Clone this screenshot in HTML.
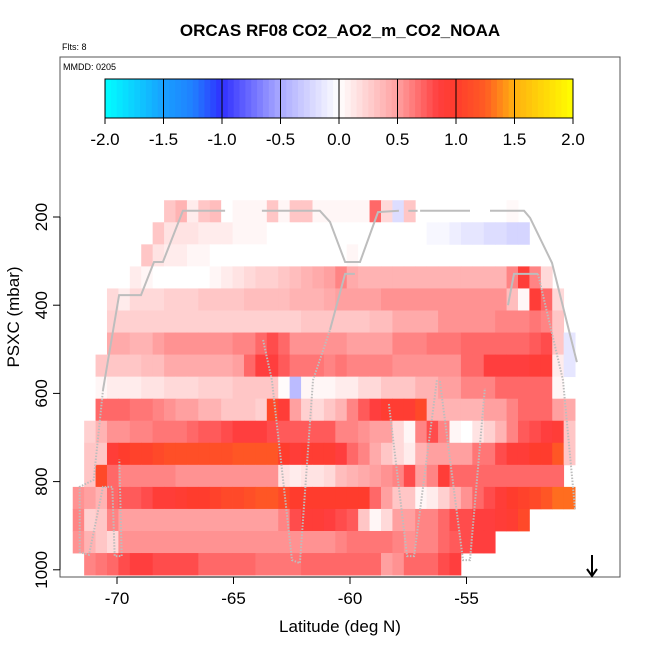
<!DOCTYPE html>
<html><head><meta charset="utf-8">
<style>
html,body{margin:0;padding:0;background:#fff;}
svg{display:block;font-family:"Liberation Sans",sans-serif;}
</style></head>
<body>
<svg id="chart" width="650" height="650" viewBox="0 0 650 650" xmlns="http://www.w3.org/2000/svg">
<rect width="650" height="650" fill="#fff"/>
<text x="340" y="36" text-anchor="middle" font-size="17" font-weight="bold">ORCAS RF08 CO2_AO2_m_CO2_NOAA</text>
<text x="62" y="50" font-size="9">Flts: 8</text>
<g id="heat"></g>
<g id="track"></g>
<rect x="60" y="57" width="560" height="520" fill="none" stroke="#555" stroke-width="1"/>
<text x="63" y="70" font-size="9">MMDD: 0205</text>
<g id="cbar"></g>
<g id="axes"></g>
<text x="340" y="632" text-anchor="middle" font-size="17">Latitude (deg N)</text>
<text x="0" y="0" transform="translate(19,317) rotate(-90)" text-anchor="middle" font-size="17">PSXC (mbar)</text>
<g stroke="#000" stroke-width="2" fill="none">
<line x1="592" y1="555" x2="592" y2="576"/><polyline points="587,569 592,576 597,569"/>
</g>
</svg>
<script>
// ---- data ----
const binStart = -71.9;    // latitude of first bin
const binWidth = 0.49;     // deg
const rowTop = 162;        // mbar top of first row
const rowHeight = 50;      // mbar
const N = null;
const row0 = [N,N,N,N,N,N,N,N,.3,.4,.1,.3,.35,0,.05,.05,.05,.3,.05,.3,.3,.05,.05,.05,.05,.05,.7,.2,-.2,.3,N,N,N,N,N,N,N,N,.03,N,N,N,N,N];
const row1 = [N,N,N,N,N,N,N,.3,.15,.15,.15,.1,.1,.1,.05,.05,.05,0,0,0,0,0,0,0,0,0,0,0,0,0,0,-.05,-.05,-.1,-.15,-.15,-.2,-.2,-.25,-.25,N,N,N,N];
const row2 = [N,N,N,N,N,N,.3,.15,.1,.1,.05,.05,0,0,0,0,0,0,0,0,0,0,0,0,.05,0,N,N,N,N,N,N,N,N,N,N,N,N,N,N,N,N,N,N];
const row3 = [N,N,N,N,N,.1,.05,0,0,0,0,0,.05,.1,.15,.2,.25,.25,.3,.35,.4,.45,.5,.6,.45,.4,.4,.4,.4,.4,.4,.4,.4,.4,.4,.4,.4,.4,.6,.9,.6,.2,N,N];
const row4 = [N,N,N,.2,.1,.2,.2,.2,.25,.25,.25,.3,.3,.3,.3,.35,.35,.35,.35,.4,.4,.4,.45,.5,.5,.5,.5,.55,.55,.55,.55,.55,.55,.55,.55,.55,.55,.55,.35,.05,.9,.7,.2,N];
const row5 = [N,N,N,.25,.25,.25,.25,.25,.25,.25,.25,.25,.25,.25,.25,.25,.25,.25,.25,.25,.3,.3,.3,.3,.3,.3,.35,.35,.45,.45,.45,.45,.55,.55,.55,.55,.55,.6,.6,.6,.65,.6,.3,N];
const row6 = [N,N,N,.45,.45,.4,.4,.5,.55,.55,.55,.55,.55,.55,.6,.6,.7,.8,.7,.55,.55,.55,.55,.55,.5,.5,.5,.5,.6,.6,.6,.65,.65,.65,.7,.7,.7,.7,.7,.7,.75,.8,.3,-.15];
const row7 = [N,N,.3,.3,.3,.3,.35,.35,.45,.45,.45,.45,.45,.45,.5,.7,.85,.85,.75,.65,.65,.65,.6,.65,.6,.6,.6,.6,.55,.55,.55,.55,.55,.55,.7,.7,.85,.85,.85,.85,.9,.9,.1,-.15];
const row8 = [N,N,.05,.1,.1,.1,.15,.15,.2,.2,.2,.25,.25,.25,.3,.3,.3,.3,.02,-.4,.05,.05,.05,.1,.1,.2,.2,.3,.3,.3,.4,.4,.5,.5,.6,.6,.6,.7,.7,.7,.7,.7,.05,N];
const row9 = [N,N,.7,.7,.7,.65,.65,.6,.55,.5,.5,.4,.4,.3,.3,.3,.25,1.1,.9,.5,.25,.2,.3,.4,.6,.75,.85,.95,.95,.95,1.1,.4,.4,.4,.4,.4,.5,.5,.6,.7,.7,.7,.5,.45];
const row10 = [N,.25,.4,.55,.55,.6,.6,.65,.65,.65,.7,.75,.75,.8,.85,.85,.85,.8,.75,.75,.75,.75,.75,.6,.6,.55,.5,.5,.2,.05,.6,.8,.6,.05,0,.15,.25,.4,.6,.75,.8,.85,.9,.3];
const row11 = [N,.3,.3,.9,1.0,1.05,1.05,1.1,1.15,1.15,1.15,1.15,1.15,1.15,1.2,1.2,1.2,1.2,1.0,.9,.95,.95,.95,.85,.7,.6,.45,.3,.2,.1,.4,.5,.5,.5,.5,.65,.65,.8,.9,.9,1.0,1.0,1.2,.3];
const row12 = [N,.3,1.1,.7,.6,.6,.6,.6,.6,.55,.55,.55,.55,.55,.55,.55,.55,.55,.15,.1,.15,.15,.2,.35,.4,.45,.5,.55,.6,.8,.5,.6,.9,.7,.7,.7,.7,.7,.7,.7,.7,.7,.7,N];
const row13 = [.55,.5,.4,.7,.75,.75,.8,.9,.9,.95,1.0,1.0,1.05,1.1,1.1,1.15,1.2,1.2,1.1,1.0,1.0,1.0,1.0,1.0,1.0,1.0,.7,.5,.3,.3,.05,.1,.25,.4,.55,.7,.8,.9,1.0,1.05,1.1,1.2,1.3,1.3];
const row14 = [.6,.25,.3,.6,.5,.5,.5,.5,.5,.5,.5,.5,.5,.5,.5,.5,.5,.5,.6,.8,.9,.9,.85,.8,.75,.3,.05,.2,.5,.5,.6,.6,.7,.8,.8,.85,.85,.9,.95,1.1,N,N,N,N];
const row15 = [.55,.4,.3,.2,.55,.55,.55,.55,.55,.55,.55,.55,.55,.55,.55,.55,.55,.55,.55,.55,.55,.55,.55,.6,.65,.65,.65,.65,.6,.55,.6,.6,.7,.75,.8,.85,.85,N,N,N,N,N,N,N];
const row16 = [N,.6,.65,.7,.8,.85,.85,.8,.8,.8,.8,.7,.7,.7,.7,.7,.65,.65,.65,.65,.7,.7,.7,.7,.7,.7,.7,.5,.55,.7,.7,.7,.8,.85,N,N,N,N,N,N,N,N,N,N];
const rows = [row0,row1,row2,row3,row4,row5,row6,row7,row8,row9,row10,row11,row12,row13,row14,row15,row16];
const xTicks = [-70,-65,-60,-55];
const yTicks = [200,400,600,800,1000];
const cbTicks = [-2.0,-1.5,-1.0,-0.5,0.0,0.5,1.0,1.5,2.0];
// flight track (latitude, pressure)
const solid1Lat = [-70.6,-69.91,-68.97,-68.41,-68.03,-67.17,-65.36];
const solid1P   = [592,377,377,302,302,186,186];
const solid2Lat = [-63.78,-61.29,-60.86,-60.21,-59.57,-58.8,-57.9];
const solid2P   = [186,186,211,302,302,189,186];
const solid3Lat = [-57.5,-57.1];
const solid3P   = [186,186];
const solid4Lat = [-56.99,-54.85];
const solid4P   = [186,186];
const solid5Lat = [-53.99,-52.53,-52.27,-51.33,-50.26];
const solid5P   = [186,186,202,304,529];
const solid6Lat = [-60.86,-60.21,-59.79];
const solid6P   = [456,329,329];
const solid7Lat = [-53.22,-52.96,-51.93];
const solid7P   = [400,329,329];
const dot1Lat = [-63.73,-63.35,-62.92,-62.49,-62.15,-61.59,-60.86];
const dot1P   = [479,570,774,978,985,570,456];
const dot2Lat = [-51.93,-50.86,-50.34];
const dot2P   = [329,570,864];
const dot3Lat = [-58.33,-57.55,-57.25,-56.27];
const dot3P   = [624,969,969,570];
const dot4Lat = [-56.14,-55.15,-54.85,-54.21];
const dot4P   = [572,978,978,588];
const dot5Lat = [-70.6,-71.0,-71.6,-71.6,-71.2,-70.6,-70.2,-70.1,-69.8,-69.9];
const dot5P   = [592,796,812,960,966,812,812,969,969,750];

// ---- scales ----
const X = lat => 117 + (lat + 70) * 23.3;
const Y = p => 217 + (p - 200) * 0.441;
const NS = "http://www.w3.org/2000/svg";
function mk(tag, parent){ const e = document.createElementNS(NS, tag); parent.appendChild(e); return e; }
const stops = [[-2,[0,255,255]],[-1.5,[24,160,255]],[-1.25,[32,128,255]],[-1,[48,48,255]],[-0.5,[170,170,255]],[0,[255,255,255]],[0.5,[255,160,160]],[0.85,[255,62,62]],[1.0,[255,60,45]],[1.25,[255,92,35]],[1.5,[255,176,16]],[2,[255,255,0]]];
function color(v){
  v = Math.max(-2, Math.min(2, v));
  for (let i=0;i<stops.length-1;i++){
    const [a,ca]=stops[i],[b,cb]=stops[i+1];
    if (v<=b){ const t=(v-a)/(b-a); return "rgb("+ca.map((c,j)=>Math.round(c+(cb[j]-c)*t)).join(",")+")"; }
  }
  return "rgb(255,255,0)";
}
// heatmap
const heat = document.getElementById('heat');
rows.forEach((row, r) => {
  const y0 = Y(rowTop + r*rowHeight), y1 = Y(rowTop + (r+1)*rowHeight);
  row.forEach((v, k) => {
    if (v === null) return;
    const x0 = X(binStart + k*binWidth), x1 = X(binStart + (k+1)*binWidth);
    const c = mk('rect', heat);
    
    
    c.setAttribute('x', x0.toFixed(2)); c.setAttribute('y', y0.toFixed(2));
    c.setAttribute('width', (x1-x0+0.4).toFixed(2)); c.setAttribute('height', (y1-y0+0.4).toFixed(2));
    c.setAttribute('fill', color(v));
  });
});
// track
const track = document.getElementById('track');
function line(lats, ps, dotted){
  const p = mk('polyline', track);
  
  
  p.setAttribute('points', lats.map((l,i)=>X(l).toFixed(1)+","+Y(ps[i]).toFixed(1)).join(" "));
  p.setAttribute('fill','none'); p.setAttribute('stroke','#bdbdbd');
  p.setAttribute('stroke-width', '2');
  if (dotted) p.setAttribute('stroke-dasharray','1.5,1.5');
}
line(solid1Lat,solid1P,false); line(solid2Lat,solid2P,false); line(solid3Lat,solid3P,false);
line(solid4Lat,solid4P,false); line(solid5Lat,solid5P,false); line(solid6Lat,solid6P,false); line(solid7Lat,solid7P,false);
line(dot1Lat,dot1P,true); line(dot2Lat,dot2P,true); line(dot3Lat,dot3P,true); line(dot4Lat,dot4P,true); line(dot5Lat,dot5P,true);
// colorbar
const cbar = document.getElementById('cbar');
const CX = v => 105 + (v + 2) * 117;
for (let i=0;i<80;i++){
  const v0 = -2 + i*0.05;
  const r = mk('rect', cbar);
  
  
  r.setAttribute('x', CX(v0).toFixed(2)); r.setAttribute('y', 79);
  r.setAttribute('width', (5.85+0.4).toFixed(2)); r.setAttribute('height', 39);
  r.setAttribute('fill', color(v0+0.025));
}
cbTicks.forEach(t => {
  const l = mk('line', cbar);
  
  
  l.setAttribute('x1', CX(t)); l.setAttribute('x2', CX(t)); l.setAttribute('y1', 79); l.setAttribute('y2', 124);
  l.setAttribute('stroke', '#000'); l.setAttribute('stroke-width', '1');
  const tx = mk('text', cbar);
  
  
  tx.setAttribute('x', CX(t)); tx.setAttribute('y', 145); tx.setAttribute('text-anchor','middle'); tx.setAttribute('font-size','17');
  tx.textContent = t.toFixed(1);
});
const box = mk('rect', cbar);


box.setAttribute('x', CX(-2)); box.setAttribute('y', 79); box.setAttribute('width', CX(2)-CX(-2)); box.setAttribute('height', 39);
box.setAttribute('fill','none'); box.setAttribute('stroke','#000');
// axes
const axes = document.getElementById('axes');
const xa = mk('line', axes);


xa.setAttribute('x1', X(xTicks[0])); xa.setAttribute('x2', X(xTicks[xTicks.length-1])); xa.setAttribute('y1', 577); xa.setAttribute('y2', 577); xa.setAttribute('stroke','#000');
xTicks.forEach(t => {
  const l = mk('line', axes);
  
  
  l.setAttribute('x1', X(t)); l.setAttribute('x2', X(t)); l.setAttribute('y1', 577); l.setAttribute('y2', 584); l.setAttribute('stroke','#000');
  const tx = mk('text', axes);
  
  
  tx.setAttribute('x', X(t)); tx.setAttribute('y', 604); tx.setAttribute('text-anchor','middle'); tx.setAttribute('font-size','17');
  tx.textContent = t;
});
const ya = mk('line', axes);


ya.setAttribute('x1', 60); ya.setAttribute('x2', 60); ya.setAttribute('y1', Y(yTicks[0])); ya.setAttribute('y2', Y(yTicks[yTicks.length-1])); ya.setAttribute('stroke','#000');
yTicks.forEach(t => {
  const l = mk('line', axes);
  
  
  l.setAttribute('x1', 53); l.setAttribute('x2', 60); l.setAttribute('y1', Y(t)); l.setAttribute('y2', Y(t)); l.setAttribute('stroke','#000');
  const tx = mk('text', axes);
  
  
  tx.setAttribute('transform', 'translate(47,' + Y(t) + ') rotate(-90)');
  tx.setAttribute('text-anchor','middle'); tx.setAttribute('font-size','17');
  tx.textContent = t;
});
</script>
</body></html>
